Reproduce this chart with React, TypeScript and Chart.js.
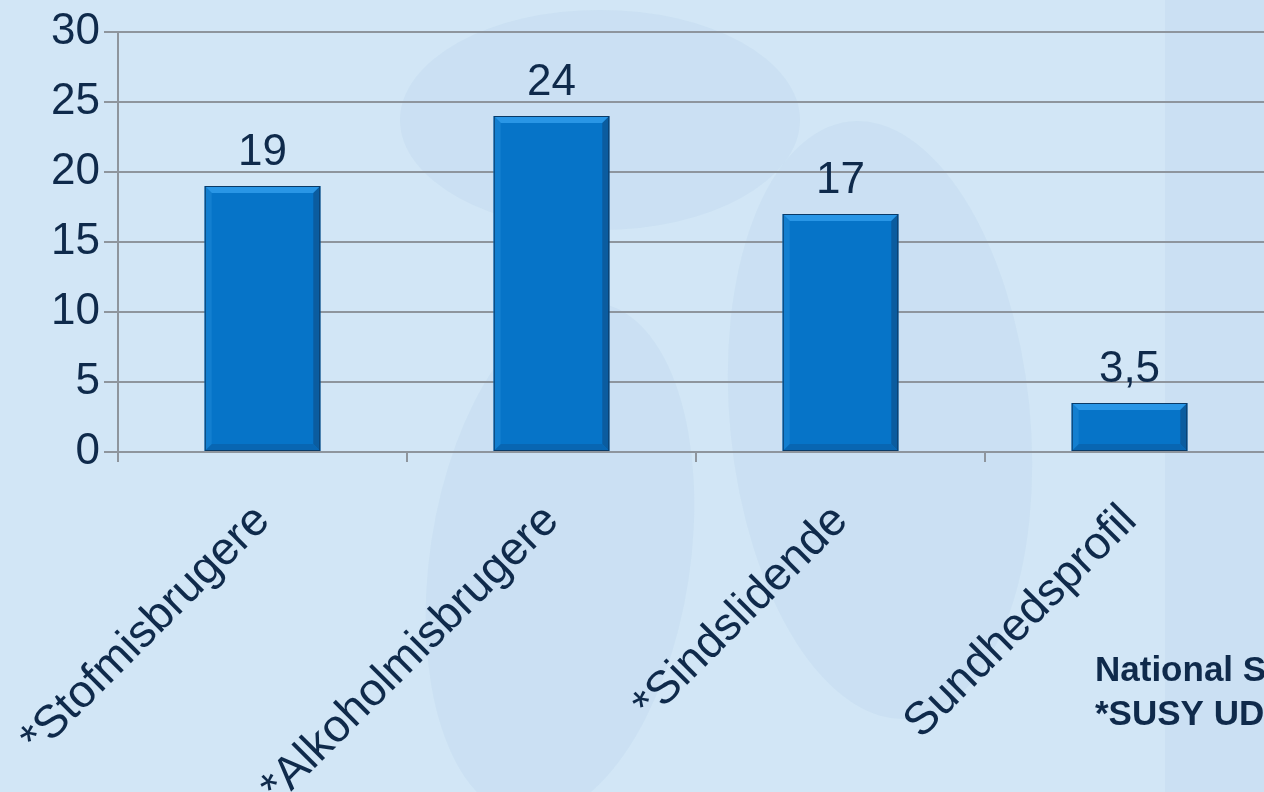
import React, { useEffect, useRef } from "react";
import { Chart, registerables } from "chart.js";

Chart.register(...registerables);

const categories = ["*Stofmisbrugere", "*Alkoholmisbrugere", "*Sindslidende", "Sundhedsprofil"];
const values = [19, 24, 17, 3.5];
const valueLabels = ["19", "24", "17", "3,5"];
const yMin = 0;
const yMax = 30;
const yStep = 5;
const footnoteLines = ["National S", "*SUSY UD"];

const TEXT = "#0f2a4b";
const GRID = "#8e959d";
const BG = "#d2e6f6";

const bgPlugin = {
  id: "bg",
  beforeDraw(chart: any) {
    const { ctx, width, height } = chart;
    ctx.save();
    ctx.fillStyle = BG;
    ctx.fillRect(0, 0, width, height);
    // faint watermark shapes
    ctx.fillStyle = "rgba(150,185,215,0.11)";
    ctx.fillRect(1165, 0, width - 1165, height);
    ctx.beginPath();
    ctx.ellipse(560, 560, 130, 260, 0.15, 0, Math.PI * 2);
    ctx.fill();
    ctx.beginPath();
    ctx.ellipse(880, 420, 150, 300, -0.1, 0, Math.PI * 2);
    ctx.fill();
    ctx.beginPath();
    ctx.ellipse(600, 120, 200, 110, 0, 0, Math.PI * 2);
    ctx.fill();
    ctx.restore();
  },
};

const bevelPlugin = {
  id: "bevel",
  afterDatasetsDraw(chart: any) {
    const { ctx } = chart;
    const meta = chart.getDatasetMeta(0);
    ctx.save();
    meta.data.forEach((bar: any) => {
      const w = bar.width;
      const l = bar.x - w / 2;
      const r = bar.x + w / 2;
      const t = bar.y;
      const b = bar.base;
      const bv = Math.min(7, (b - t) / 3);
      const poly = (pts: number[][], color: string) => {
        ctx.beginPath();
        ctx.moveTo(pts[0][0], pts[0][1]);
        for (let i = 1; i < pts.length; i++) ctx.lineTo(pts[i][0], pts[i][1]);
        ctx.closePath();
        ctx.fillStyle = color;
        ctx.fill();
      };
      poly([[l, t], [r, t], [r - bv, t + bv], [l + bv, t + bv]], "#2996e6");
      poly([[r, t], [r, b], [r - bv, b - bv], [r - bv, t + bv]], "#0b5c9f");
      poly([[l, b], [r, b], [r - bv, b - bv], [l + bv, b - bv]], "#0866b2");
      poly([[l, t], [l, b], [l + bv, b - bv], [l + bv, t + bv]], "#137fd0");
      ctx.strokeStyle = "#0a3a66";
      ctx.lineWidth = 1;
      ctx.strokeRect(l + 0.5, t + 0.5, w - 1, b - t - 1);
    });
    ctx.restore();
  },
};

const labelPlugin = {
  id: "valueLabels",
  afterDatasetsDraw(chart: any) {
    const { ctx } = chart;
    const meta = chart.getDatasetMeta(0);
    ctx.save();
    ctx.fillStyle = TEXT;
    ctx.font = "44px 'Liberation Sans', Arial, sans-serif";
    ctx.textAlign = "center";
    ctx.textBaseline = "alphabetic";
    meta.data.forEach((bar: any, i: number) => {
      ctx.fillText(valueLabels[i], bar.x, bar.y - 21);
    });
    ctx.font = "bold 35px 'Liberation Sans', Arial, sans-serif";
    ctx.textAlign = "left";
    footnoteLines.forEach((line, i) => {
      ctx.fillText(line, 1095, 681 + i * 44);
    });
    ctx.restore();
  },
};

export default function App() {
  const ref = useRef<HTMLCanvasElement>(null);
  useEffect(() => {
    const canvas = ref.current!;
    const chart = new Chart(canvas, {
      type: "bar",
      data: {
        labels: categories,
        datasets: [
          {
            data: values,
            backgroundColor: "#0674c8",
            borderWidth: 0,
            barPercentage: 0.4,
            categoryPercentage: 1,
          },
        ],
      },
      options: {
        responsive: false,
        animation: false,
        devicePixelRatio: 1,
        layout: { padding: { top: 32, left: 0, right: 0, bottom: 0 } },
        plugins: { legend: { display: false }, tooltip: { enabled: false } },
        scales: {
          x: {
            grid: {
              display: true,
              drawOnChartArea: false,
              drawTicks: true,
              tickLength: 10,
              color: GRID,
              lineWidth: 2,
              offset: true,
            },
            border: { display: true, color: GRID, width: 2 },
            ticks: {
              color: TEXT,
              font: { family: "'Liberation Sans', Arial, sans-serif", size: 46 },
              minRotation: 45,
              maxRotation: 45,
              autoSkip: false,
              padding: 32,
            },
            afterFit(scale: any) {
              scale.height = 340;
              scale.paddingLeft = 0;
              scale.paddingRight = 0;
            },
          },
          y: {
            min: yMin,
            max: yMax,
            ticks: {
              stepSize: yStep,
              color: TEXT,
              font: { family: "'Liberation Sans', Arial, sans-serif", size: 44 },
              padding: 4,
            },
            grid: { color: GRID, lineWidth: 2, tickLength: 14 },
            border: { display: true, color: GRID, width: 2 },
            afterFit(scale: any) {
              scale.width = 118;
              scale.paddingTop = 0;
              scale.paddingBottom = 0;
            },
          },
        },
      },
      plugins: [bgPlugin, bevelPlugin, labelPlugin],
    });
    return () => chart.destroy();
  }, []);
  return (
    <div
      style={{
        position: "fixed",
        left: 0,
        top: 0,
        width: 1264,
        height: 792,
        overflow: "hidden",
        background: BG,
      }}
    >
      <canvas ref={ref} width={1274} height={792} style={{ display: "block" }} />
    </div>
  );
}
